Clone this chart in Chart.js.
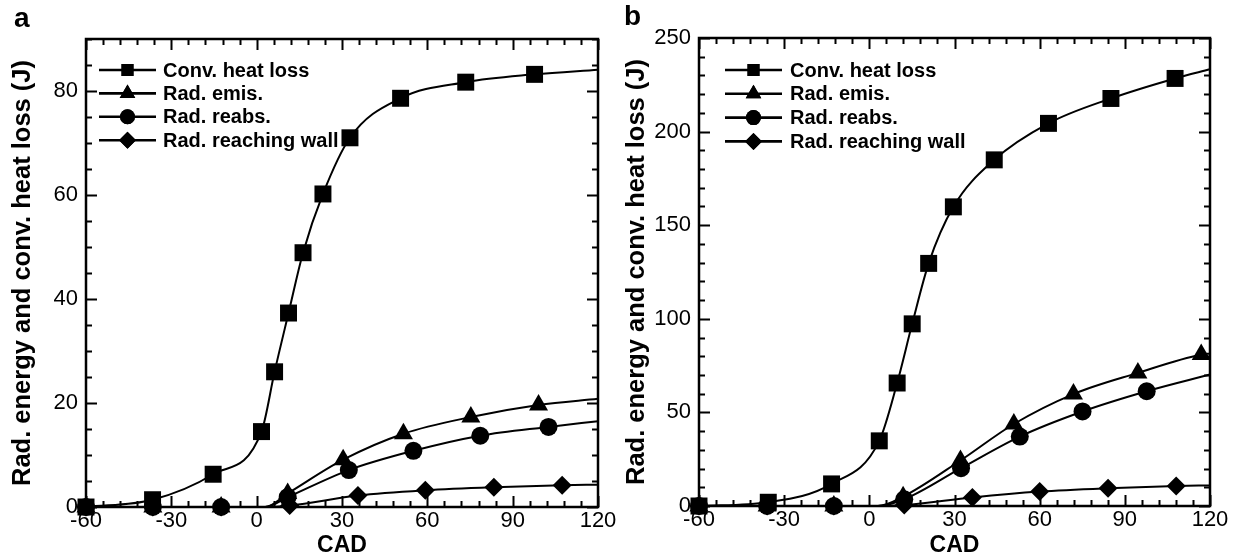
<!DOCTYPE html>
<html>
<head>
<meta charset="utf-8">
<title>Rad. energy and conv. heat loss</title>
<script src="https://cdn.jsdelivr.net/npm/chart.js@4.4.1/dist/chart.umd.min.js"></script>
<style>
  html, body { margin: 0; padding: 0; background: #fff; }
  #wrap { position: relative; width: 1236px; height: 559px; overflow: hidden; }
  .panel { position: absolute; top: 0; width: 618px; height: 559px; }
  .tag { position: absolute; font: bold 28px "Liberation Sans", Arial, sans-serif; line-height: 1; color: #000; }
</style>
</head>
<body>
<div id="wrap">
  <div class="panel" style="left:0"><canvas id="chartA" width="618" height="559"></canvas></div>
  <div class="panel" style="left:618px"><canvas id="chartB" width="618" height="559"></canvas></div>
  <div class="tag" style="left:14px;top:4px">a</div>
  <div class="tag" style="left:624px;top:2px">b</div>
</div>
<script>
var seriesNames = ['Conv. heat loss', 'Rad. emis.', 'Rad. reabs.', 'Rad. reaching wall'];
var cadTicks = [-60, -30, 0, 30, 60, 90, 120];
var energyTicksA = [0, 20, 40, 60, 80];
var energyTicksB = [0, 50, 100, 150, 200, 250];
// points the curves pass through without a symbol
var curveOnlyCad = [3, 120];

// panel a
var convCadA = [-60, -36.6, -15.3, 1.7, 6.3, 11.2, 16.3, 23.3, 32.8, 50.6, 73.5, 97.7, 120];
var convA = [0, 1.4, 6.3, 14.5, 26.0, 37.3, 48.9, 60.2, 71.0, 78.6, 81.7, 83.2, 84.1];
var emisCadA = [-60, -36.5, -12.5, 3, 10.9, 30.4, 51.6, 75.3, 99.1, 120];
var emisA = [0, 0, 0, 0, 2.6, 9.1, 14.1, 17.3, 19.6, 20.8];
var reabsCadA = [-60, -36.5, -12.5, 3, 10.9, 32.4, 55.1, 78.6, 102.6, 120];
var reabsA = [0, 0, 0, 0, 1.9, 7.1, 10.8, 13.7, 15.4, 16.5];
var wallCadA = [-60, -36.5, -12.5, 3, 11.6, 35.6, 59.3, 83.4, 107.4, 120];
var wallA = [0, 0, 0, 0, 0.3, 2.2, 3.2, 3.8, 4.2, 4.3];

// panel b
var convCadB = [-60, -35.6, -13.3, 3.5, 9.8, 15.1, 20.9, 29.6, 44.0, 63.1, 85.1, 107.7, 120];
var convB = [0, 2.0, 11.8, 34.8, 65.7, 97.3, 129.6, 159.8, 184.9, 204.4, 217.7, 228.4, 233.3];
var emisCadB = [-60, -36, -12.5, 3, 11.9, 32.1, 50.9, 71.9, 94.6, 116.9, 120];
var emisB = [0, 0, 0, 0, 5.0, 24.3, 43.8, 59.8, 71.1, 80.9, 81.5];
var reabsCadB = [-60, -36, -12.5, 3, 12.3, 32.3, 53.0, 75.1, 97.7, 120];
var reabsB = [0, 0, 0, 0, 3.6, 20.2, 37.1, 50.5, 61.3, 70.2];
var wallCadB = [-60, -36, -12.5, 3, 12.3, 36.3, 60.0, 84.1, 108.1, 120];
var wallB = [0, 0, 0, 0, 0.5, 4.6, 7.7, 9.5, 10.7, 11.0];

var FONT = '"Liberation Sans", Arial, Helvetica, sans-serif';
var pointStyles = ['rect', 'triangle', 'circle', 'rectRot'];
var pointSizes = [12, 11, 9, 9.5];

Chart.defaults.color = '#000';
Chart.defaults.font.family = FONT;

function pairUp(xs, ys) {
    return xs.map(function (x, i) { return {x: x, y: ys[i]}; });
}

function makeDatasets(list) {
    return list.map(function (s, i) {
        return {
            label: seriesNames[i],
            data: pairUp(s[0], s[1]),
            borderColor: '#000',
            backgroundColor: '#000',
            borderWidth: 2,
            pointStyle: pointStyles[i],
            pointRadius: function (ctx) {
                return (ctx.raw && curveOnlyCad.indexOf(ctx.raw.x) >= 0) ? 0 : pointSizes[i];
            },
            pointBorderWidth: 0,
            cubicInterpolationMode: 'monotone',
            clip: false
        };
    });
}

// frame and inward ticks on all four sides
var frameTicks = {
    id: 'frameTicks',
    beforeDatasetsDraw: function (chart, args, opts) {
        var ctx = chart.ctx, a = chart.chartArea, x = chart.scales.x, y = chart.scales.y;
        ctx.save();
        ctx.strokeStyle = '#000';
        ctx.lineWidth = 2;
        ctx.beginPath();
        for (var v = x.min; v <= x.max + 1e-6; v += opts.xMinor) {
            var px = Math.round(x.getPixelForValue(v)) + 0.5;
            var len = cadTicks.indexOf(v) >= 0 ? 11 : 6;
            ctx.moveTo(px, a.bottom); ctx.lineTo(px, a.bottom - len);
            ctx.moveTo(px, a.top); ctx.lineTo(px, a.top + len);
        }
        for (var w = y.min; w <= y.max + 1e-6; w += opts.yMinor) {
            var py = Math.round(y.getPixelForValue(w)) + 0.5;
            var l2 = opts.yMajor.indexOf(w) >= 0 ? 11 : 6;
            ctx.moveTo(a.left, py); ctx.lineTo(a.left + l2, py);
            ctx.moveTo(a.right, py); ctx.lineTo(a.right - l2, py);
        }
        ctx.stroke();
        ctx.lineWidth = 2.5;
        ctx.strokeRect(a.left, a.top, a.right - a.left, a.bottom - a.top);
        ctx.restore();
    }
};

// legend: line with symbol in the middle, bold label
var lineLegend = {
    id: 'lineLegend',
    afterDraw: function (chart, args, opts) {
        var ctx = chart.ctx;
        ctx.save();
        ctx.fillStyle = '#000';
        ctx.strokeStyle = '#000';
        ctx.font = 'bold 20px ' + FONT;
        ctx.textBaseline = 'middle';
        var sizes = [8.5, 9, 7.5, 8.5];
        seriesNames.forEach(function (name, i) {
            var yy = opts.top + i * opts.step;
            ctx.lineWidth = 2.6;
            ctx.beginPath();
            ctx.moveTo(opts.x0, yy); ctx.lineTo(opts.x1, yy);
            ctx.stroke();
            var cx = (opts.x0 + opts.x1) / 2;
            Chart.helpers.drawPoint(ctx, {pointStyle: pointStyles[i], radius: sizes[i], rotation: 0, borderWidth: 0}, cx, yy);
            ctx.fill();
            ctx.fillText(name, opts.textX, yy + 1);
        });
        ctx.restore();
    }
};

function buildChart(id, sets, yMax, yTicks, yMinor, pad, yWidth, xHeight, titlePad, legend) {
    return new Chart(document.getElementById(id), {
        type: 'line',
        data: {datasets: makeDatasets(sets)},
        options: {
            responsive: false,
            animation: false,
            devicePixelRatio: 1,
            events: [],
            layout: {padding: pad},
            scales: {
                x: {
                    type: 'linear',
                    min: -60,
                    max: 120,
                    afterBuildTicks: function (s) { s.ticks = cadTicks.map(function (v) { return {value: v}; }); },
                    afterFit: function (s) { s.height = xHeight; },
                    grid: {display: false, drawTicks: false},
                    border: {display: false},
                    ticks: {font: {size: 22}, padding: 1, maxRotation: 0},
                    title: {display: true, text: 'CAD', font: {size: 23, weight: 'bold'}, padding: {top: 0, bottom: 0}}
                },
                y: {
                    type: 'linear',
                    min: 0,
                    max: yMax,
                    afterBuildTicks: function (s) { s.ticks = yTicks.map(function (v) { return {value: v}; }); },
                    afterFit: function (s) { s.width = yWidth; },
                    grid: {display: false, drawTicks: false},
                    border: {display: false},
                    ticks: {font: {size: 22}, padding: 8},
                    title: {display: true, text: 'Rad. energy and conv. heat loss (J)', font: {size: 25.5, weight: 'bold'}, padding: {top: titlePad, bottom: 0}}
                }
            },
            plugins: {
                legend: {display: false},
                tooltip: {enabled: false},
                frameTicks: {xMinor: 6, yMinor: yMinor, yMajor: yTicks},
                lineLegend: legend
            }
        },
        plugins: [frameTicks, lineLegend]
    });
}

buildChart('chartA',
    [[convCadA, convA], [emisCadA, emisA], [reabsCadA, reabsA], [wallCadA, wallA]],
    90, energyTicksA, 5,
    {top: 39, right: 20, left: 0, bottom: 0}, 86, 52, 8,
    {x0: 99, x1: 156, textX: 163, top: 70, step: 23.4});

buildChart('chartB',
    [[convCadB, convB], [emisCadB, emisB], [reabsCadB, reabsB], [wallCadB, wallB]],
    250, energyTicksB, 10,
    {top: 38, right: 26, left: 0, bottom: 0}, 81, 53, 4,
    {x0: 107, x1: 164, textX: 172, top: 70, step: 23.8});
</script>
</body>
</html>
